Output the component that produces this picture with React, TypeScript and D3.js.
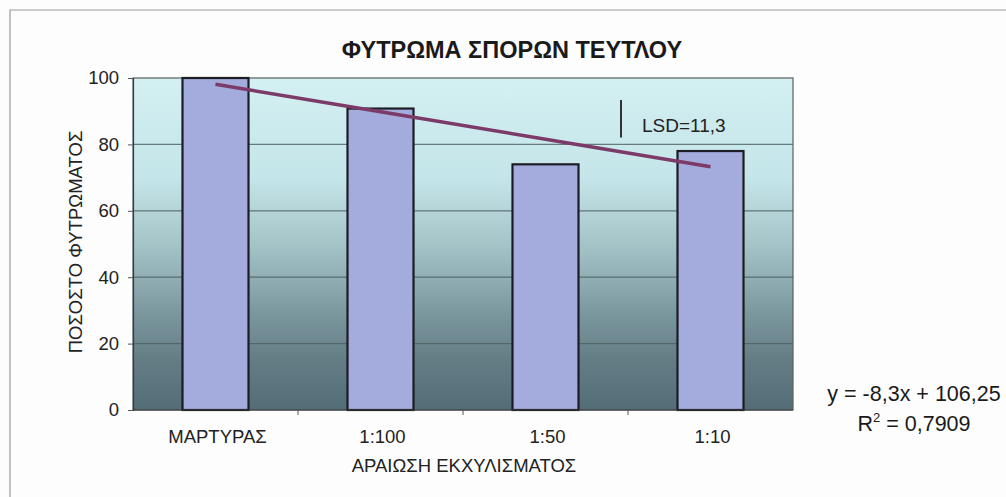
import { useEffect, useRef } from "react"
import * as d3 from "d3"

const categories = ["ΜΑΡΤΥΡΑΣ", "1:100", "1:50", "1:10"]
const germination = [100, 90.8, 74, 78]
const yTicks = [0, 20, 40, 60, 80, 100]
const lsdValue = 11.3
const lsdLabel = "LSD=11,3"
const equationText = "y = -8,3x + 106,25"
const r2Text = " = 0,7909"

const title = "ΦΥΤΡΩΜΑ ΣΠΟΡΩΝ ΤΕΥΤΛΟΥ"
const yTitle = "ΠΟΣΟΣΤΟ ΦΥΤΡΩΜΑΤΟΣ"
const xTitle = "ΑΡΑΙΩΣΗ ΕΚΧΥΛΙΣΜΑΤΟΣ"

export default function App() {
    const svgRef = useRef<SVGSVGElement>(null)
    const width = 1006
    const height = 497

    useEffect(() => {
        const margin = { top: 78, right: 213, bottom: 87, left: 133 }
        const font = "Arial, 'Liberation Sans', sans-serif"

        const x = d3.scaleBand<string>()
            .domain(categories)
            .range([margin.left, width - margin.right])
            .paddingInner(0.6)
            .paddingOuter(0.3)

        // category boundaries, ticks sit between categories like in Excel
        const xEdge = d3.scaleLinear()
            .domain([0, categories.length])
            .range([margin.left, width - margin.right])

        const y = d3.scaleLinear()
            .domain([0, 100])
            .range([height - margin.bottom, margin.top])

        const svg = d3.select(svgRef.current)
        svg.selectAll('*').remove()

        const defs = svg.append('defs')
        const grad = defs.append('linearGradient')
            .attr('id', 'bg')
            .attr('x1', 0).attr('y1', 0).attr('x2', 0).attr('y2', 1)
        const stops: [string, string][] = [
            ["0%", "#d4f0f2"], ["30%", "#c4e5e9"], ["50%", "#a5c4c8"],
            ["70%", "#7c99a0"], ["85%", "#647d85"], ["100%", "#536d77"]
        ]
        stops.forEach(([o, c]) => grad.append('stop').attr('offset', o).attr('stop-color', c))

        svg.append('rect')
            .attr('width', width).attr('height', height)
            .attr('fill', '#fdfdfd')

        // outer frame
        svg.append('path')
            .attr('d', `M10,${height} V10 H${width}`)
            .attr('fill', 'none')
            .attr('stroke', '#9a9a9a')
            .attr('stroke-width', 1.2)

        // plot area
        svg.append('rect')
            .attr('x', margin.left).attr('y', margin.top)
            .attr('width', width - margin.left - margin.right)
            .attr('height', height - margin.top - margin.bottom)
            .attr('fill', 'url(#bg)')
            .attr('stroke', '#5a5f60')
            .attr('stroke-width', 1.2)

        // grid
        svg.append('g')
            .selectAll('line')
            .data(yTicks.filter(t => t > 0 && t < 100))
            .join('line')
            .attr('x1', margin.left).attr('x2', width - margin.right)
            .attr('y1', d => y(d)).attr('y2', d => y(d))
            .attr('stroke', '#4e5e60')
            .attr('stroke-opacity', 0.8)
            .attr('stroke-width', 1.3)

        // bars
        svg.append('g')
            .selectAll('rect')
            .data(germination)
            .join('rect')
            .attr('x', (_, i) => x(categories[i])!)
            .attr('y', d => y(d))
            .attr('width', x.bandwidth())
            .attr('height', d => y(0) - y(d))
            .attr('fill', '#a3acdc')
            .attr('stroke', '#1c1c24')
            .attr('stroke-width', 2.2)

        // linear trend (least squares, x = 1..n)
        const xs = germination.map((_, i) => i + 1)
        const mx = d3.mean(xs)!
        const my = d3.mean(germination)!
        const slope = d3.sum(xs, (xi, i) => (xi - mx) * (germination[i] - my)) / d3.sum(xs, xi => (xi - mx) ** 2)
        const intercept = my - slope * mx
        const trend = xs.map(xi => ({ x: xi, y: intercept + slope * xi }))
        const line = d3.line<{ x: number, y: number }>()
            .x(d => x(categories[d.x - 1])! + x.bandwidth() / 2)
            .y(d => y(d.y))
        svg.append('path')
            .datum(trend)
            .attr('fill', 'none')
            .attr('stroke', '#7c3a68')
            .attr('stroke-width', 3.4)
            .attr('d', line)

        // axes
        const yAxis = svg.append('g')
            .attr('transform', `translate(${margin.left},0)`)
            .call(d3.axisLeft(y).tickValues(yTicks).tickSize(5).tickPadding(9))
        yAxis.select('.domain').attr('stroke', '#3a3a3a').attr('stroke-width', 1.2)
        yAxis.selectAll('.tick line').attr('stroke', '#555')
        yAxis.selectAll('text')
            .attr('font-family', font).attr('font-size', 18.5).attr('fill', '#222')

        const xAxis = svg.append('g')
            .attr('transform', `translate(0,${y(0)})`)
        xAxis.append('line')
            .attr('x1', margin.left).attr('x2', width - margin.right)
            .attr('stroke', '#3a3a3a').attr('stroke-width', 1.2)
        xAxis.selectAll('line.tk')
            .data(d3.range(1, categories.length))
            .join('line')
            .attr('class', 'tk')
            .attr('x1', d => xEdge(d)).attr('x2', d => xEdge(d))
            .attr('y1', 0).attr('y2', 5)
            .attr('stroke', '#555')
        xAxis.selectAll('text')
            .data(categories)
            .join('text')
            .attr('x', d => x(d)! + x.bandwidth() / 2 + 2)
            .attr('y', 33)
            .attr('text-anchor', 'middle')
            .attr('font-family', font).attr('font-size', 18.5).attr('fill', '#222')
            .text(d => d)

        // LSD marker
        const lsdX = xEdge(3) - 7
        const lsdTop = 93.4
        svg.append('line')
            .attr('x1', lsdX).attr('x2', lsdX)
            .attr('y1', y(lsdTop)).attr('y2', y(lsdTop - lsdValue))
            .attr('stroke', '#333').attr('stroke-width', 2)
        svg.append('text')
            .attr('x', lsdX + 21).attr('y', 131.5)
            .attr('font-family', font).attr('font-size', 19).attr('fill', '#222')
            .text(lsdLabel)

        // titles
        svg.append('text')
            .attr('x', 512).attr('y', 58)
            .attr('text-anchor', 'middle')
            .attr('font-family', font).attr('font-size', 23.5).attr('font-weight', 'bold')
            .attr('fill', '#1a1a1a')
            .text(title)

        svg.append('text')
            .attr('transform', `translate(82,242) rotate(-90)`)
            .attr('text-anchor', 'middle')
            .attr('font-family', font).attr('font-size', 18.5).attr('fill', '#222')
            .text(yTitle)

        svg.append('text')
            .attr('x', 464).attr('y', 471.5)
            .attr('text-anchor', 'middle')
            .attr('font-family', font).attr('font-size', 18.5).attr('fill', '#222')
            .text(xTitle)

        // regression equation
        svg.append('text')
            .attr('x', 914).attr('y', 401)
            .attr('text-anchor', 'middle')
            .attr('font-family', font).attr('font-size', 21.5).attr('fill', '#1a1a1a')
            .text(equationText)
        const r2 = svg.append('text')
            .attr('x', 914).attr('y', 431)
            .attr('text-anchor', 'middle')
            .attr('font-family', font).attr('font-size', 21.5).attr('fill', '#1a1a1a')
        r2.append('tspan').text('R')
        r2.append('tspan').attr('font-size', 13).attr('dy', -9).text('2')
        r2.append('tspan').attr('dy', 9).text(r2Text)
    }, [])

    return (
        <svg ref={svgRef} width={width} height={height}
            style={{ position: 'absolute', left: 0, top: 0, display: 'block' }} />
    )
}
